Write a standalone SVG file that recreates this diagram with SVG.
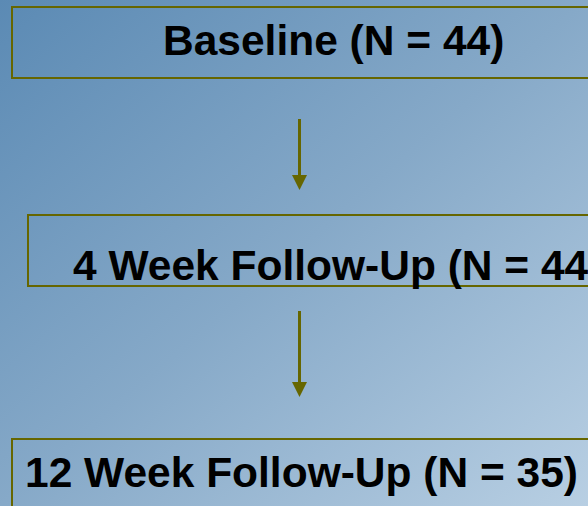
<svg xmlns="http://www.w3.org/2000/svg" width="588" height="506" viewBox="0 0 588 506">
<defs>
<linearGradient id="bg" x1="0" y1="0" x2="1" y2="1">
<stop offset="0" stop-color="#5b8ab4"/>
<stop offset="0.5" stop-color="#86a9c8"/>
<stop offset="1" stop-color="#b8cfe3"/>
</linearGradient>
</defs>
<style>
.box{fill:none;stroke:#666600;stroke-width:2}
.lbl{font-family:"Liberation Sans",Arial,sans-serif;font-weight:bold;font-size:42.5px;fill:#000}
.conn{stroke:#666600;stroke-width:3;fill:none}
.head{fill:#666600}
</style>
<rect width="588" height="506" fill="url(#bg)"/>
<g id="connectors">
<line class="conn" x1="299.5" y1="119" x2="299.5" y2="175"/>
<polygon class="head" points="292,175 307,175 299.5,190"/>
<line class="conn" x1="299.5" y1="311" x2="299.5" y2="382"/>
<polygon class="head" points="292,382 307,382 299.5,397"/>
</g>
<g id="baseline">
<rect class="box" x="12" y="7" width="600" height="71"/>
<text class="lbl" x="163" y="55">Baseline (N = 44)</text>
</g>
<g id="week4">
<rect class="box" x="28" y="215" width="600" height="71"/>
<text class="lbl" x="73" y="280">4 Week Follow-Up (N = 44)</text>
</g>
<g id="week12">
<rect class="box" x="12" y="439" width="600" height="100"/>
<text class="lbl" x="25" y="487" textLength="553" lengthAdjust="spacingAndGlyphs">12 Week Follow-Up (N = 35)</text>
</g>
</svg>
